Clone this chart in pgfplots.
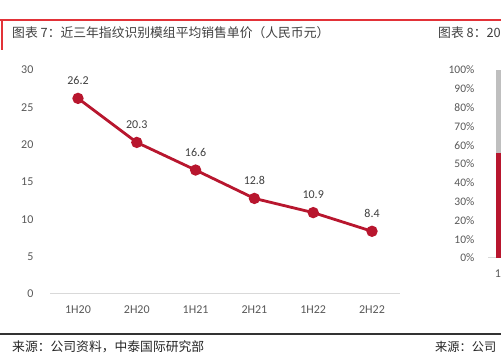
\documentclass[border=0pt]{standalone}
\usepackage{fontspec}
\usepackage{pgfplots}
\pgfplotsset{compat=1.18}
\setmainfont{Carlito}
\newfontfamily\cjk{Noto Sans CJK SC}
\definecolor{linered}{RGB}{184,22,46}
\definecolor{topred}{RGB}{226,50,56}
\definecolor{ticktext}{RGB}{89,89,89}
\definecolor{labtext}{RGB}{64,64,64}
\definecolor{axisgrey}{RGB}{217,217,217}
\definecolor{bargrey}{RGB}{191,191,191}
\begin{document}
\begin{tikzpicture}[x=1pt,y=1pt]
\useasboundingbox (0,0) rectangle (501,361);
\clip (0,0) rectangle (501,361);
\fill[white] (0,0) rectangle (501,361);
% header rules
\draw[topred, line width=1.5pt] (0,341) -- (501,341);
\draw[topred, line width=1.5pt] (2,341) -- (2,311);
\node[anchor=west, inner sep=0, text=labtext, font=\cjk\fontsize{12.8}{14}\selectfont] at (12,328) {图表 7：近三年指纹识别模组平均销售单价（人民币元）};
\node[anchor=west, inner sep=0, text=labtext, font=\cjk\fontsize{12.8}{14}\selectfont] at (438,328) {图表 8：20};
% footer
\draw[black!80, line width=1.2pt] (0,27) -- (501,27);
\node[anchor=west, inner sep=0, text=black!85, font=\cjk\fontsize{12.8}{14}\selectfont] at (12,14) {来源：公司资料，中泰国际研究部};
\node[anchor=west, inner sep=0, text=black!85, font=\cjk\fontsize{12.2}{14}\selectfont] at (435,14) {来源：公司};
% main chart
\begin{axis}[
  at={(50pt,67pt)}, anchor=south west,
  width=350pt, height=224pt, scale only axis,
  xmin=-0.476, xmax=5.476, ymin=0, ymax=30,
  axis x line=bottom, axis y line=left,
  x axis line style={axisgrey, line width=1pt, -},
  y axis line style={draw=none},
  xtick={0,1,2,3,4,5},
  xticklabels={1H20,2H20,1H21,2H21,1H22,2H22},
  xtick style={draw=none},
  ytick={0,5,10,15,20,25,30},
  ytick style={draw=none},
  /pgf/number format/assume math mode=true,
  yticklabel style={anchor=east, font=\fontsize{12}{13}\selectfont, text=ticktext},
  xticklabel style={font=\fontsize{12}{13}\selectfont, text=ticktext, yshift=-6pt},
  every y tick label/.append style={xshift=-11pt},
  clip=false,
  nodes near coords,
  nodes near coords style={font=\fontsize{12}{14}\selectfont, text=labtext, anchor=south, yshift=9pt},
  point meta=explicit symbolic,
]
\addplot[linered, line width=2.8pt, mark=*, mark size=4.2pt, mark options={fill=linered, draw=none}]
  coordinates {(0,26.2)[26.2] (1,20.3)[20.3] (2,16.6)[16.6] (3,12.8)[12.8] (4,10.9)[10.9] (5,8.4)[8.4]};
\end{axis}
% right partial chart
\begin{axis}[
  at={(488pt,103pt)}, anchor=south west,
  width=36pt, height=188pt, scale only axis,
  xmin=0, xmax=2, ymin=0, ymax=100,
  axis x line=bottom, axis y line=left,
  x axis line style={axisgrey, line width=1pt, -},
  y axis line style={draw=none},
  ybar stacked, bar width=20pt,
  xtick={0.55}, xticklabels={1},
  xtick style={draw=none}, ytick style={draw=none},
  ytick={0,10,...,100},
  /pgf/number format/assume math mode=true,
  yticklabel={\pgfmathprintnumber{\tick}\%},
  yticklabel style={anchor=east, font=\fontsize{11.5}{13}\selectfont, text=ticktext},
  every y tick label/.append style={xshift=-8pt},
  xticklabel style={font=\fontsize{12}{13}\selectfont, text=ticktext, yshift=-6pt},
  clip=false,
]
\addplot[fill=linered, draw=none] coordinates {(1,56)};
\addplot[fill=bargrey, draw=none] coordinates {(1,44)};
\end{axis}
\end{tikzpicture}
\end{document}
